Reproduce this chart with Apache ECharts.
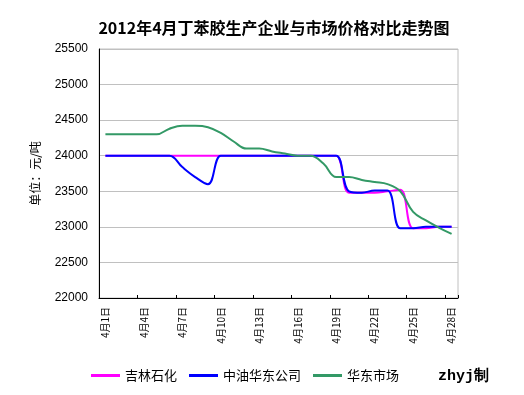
<!DOCTYPE html>
<html>
<head>
<meta charset="utf-8">
<script src="https://cdn.jsdelivr.net/npm/echarts@6/dist/echarts.min.js"></script>
<style>html,body{margin:0;padding:0;background:#fff;}#main{width:524px;height:395px;}</style>
</head>
<body>
<div id="main"></div>
<script>
var categories = ['4月1日','4月2日','4月3日','4月4日','4月5日','4月6日','4月7日','4月8日','4月9日','4月10日',
  '4月11日','4月12日','4月13日','4月14日','4月15日','4月16日','4月17日','4月18日','4月19日','4月20日',
  '4月21日','4月22日','4月23日','4月24日','4月25日','4月26日','4月27日','4月28日'];
var jilinValues = [24000,24000,24000,24000,24000,24000,24000,24000,24000,24000,
  24000,24000,24000,24000,24000,24000,24000,24000,24000,23480,
  23480,23480,23500,23520,22980,22980,23000,23000];
var zhongyouValues = [24000,24000,24000,24000,24000,24000,23840,23700,23600,24000,
  24000,24000,24000,24000,24000,24000,24000,24000,24000,23500,
  23480,23510,23510,22980,22980,23000,23000,23000];
var marketValues = [24300,24300,24300,24300,24300,24380,24420,24420,24400,24320,
  24200,24100,24100,24060,24030,24000,24000,23890,23700,23700,
  23660,23630,23600,23500,23210,23090,22990,22900];
var yTicks = {min: 22000, max: 25500, step: 500};
var seriesNames = ['吉林石化','中油华东公司','华东市场'];

var chart = echarts.init(document.getElementById('main'), null, {renderer: 'canvas'});
var cjk = '"Noto Sans CJK SC", sans-serif';
chart.setOption({
  animation: false,
  backgroundColor: '#ffffff',
  graphic: [
    {type: 'text', x: 274, y: 28, style: {text: '2012年4月丁苯胶生产企业与市场价格对比走势图', font: 'bold 16px ' + cjk, fill: '#000', textAlign: 'center', textVerticalAlign: 'middle'}},
    {type: 'text', x: 438, y: 376, style: {text: 'zhyj制', font: 'bold 15px "Liberation Mono", monospace', fill: '#000', textAlign: 'left', textVerticalAlign: 'middle'}}
  ],
  legend: {
    data: seriesNames,
    left: 91, top: 369, padding: 0,
    icon: 'rect', itemWidth: 29, itemHeight: 3, itemGap: 12,
    textStyle: {fontSize: 13, color: '#000', fontFamily: cjk}
  },
  grid: {left: 99, top: 49, width: 359, height: 249, show: true, borderColor: '#c0c0c0', borderWidth: 1, containLabel: false},
  xAxis: {
    type: 'category', data: categories, boundaryGap: true,
    axisLine: {lineStyle: {color: '#000', width: 1}},
    axisTick: {show: true, inside: true, length: 3, interval: 2, lineStyle: {color: '#000'}},
    axisLabel: {interval: 2, rotate: 90, fontSize: 10, color: '#000', margin: 9, fontFamily: cjk},
    splitLine: {show: false}
  },
  yAxis: {
    type: 'value', min: yTicks.min, max: yTicks.max, interval: yTicks.step,
    name: '单位：元/吨', nameLocation: 'middle', nameRotate: 90, nameGap: 58,
    nameTextStyle: {fontSize: 12, color: '#000', fontFamily: cjk},
    axisLine: {show: true, lineStyle: {color: '#000', width: 1}},
    axisTick: {show: false},
    axisLabel: {fontSize: 12, color: '#000', margin: 11, fontFamily: '"Liberation Sans", Arial, sans-serif',
      formatter: function (v) { return String(v); }},
    splitLine: {show: true, lineStyle: {color: '#c0c0c0', width: 1}}
  },
  series: [
    {name: seriesNames[0], type: 'line', data: jilinValues, smooth: 0.4, symbol: 'none', lineStyle: {color: '#ff00ff', width: 2}, itemStyle: {color: '#ff00ff'}, z: 2},
    {name: seriesNames[1], type: 'line', data: zhongyouValues, smooth: 0.4, symbol: 'none', lineStyle: {color: '#0000ff', width: 2}, itemStyle: {color: '#0000ff'}, z: 3},
    {name: seriesNames[2], type: 'line', data: marketValues, smooth: 0.4, symbol: 'none', lineStyle: {color: '#339966', width: 2}, itemStyle: {color: '#339966'}, z: 4}
  ]
});
</script>
</body>
</html>
